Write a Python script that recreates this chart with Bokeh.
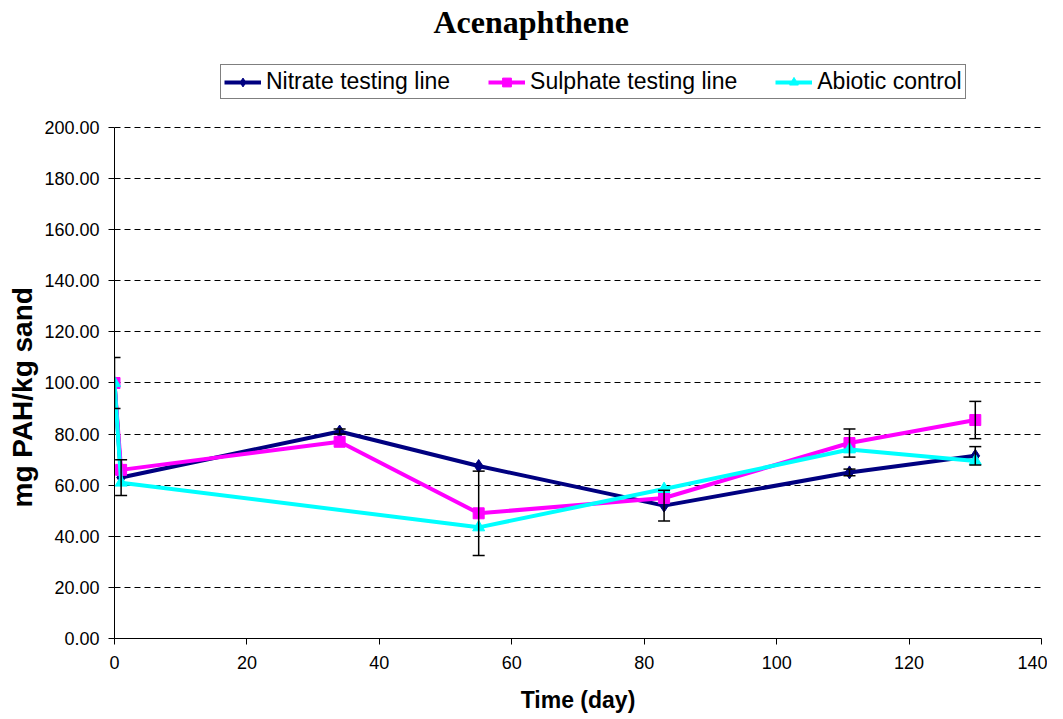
from bokeh.plotting import figure
from bokeh.models import (Range1d, Whisker, ColumnDataSource, Legend, LegendItem,
                          NumeralTickFormatter, TeeHead, Title, Label)
from bokeh.embed import file_html
from bokeh.resources import INLINE

# ---- data ----
days = [0, 1, 34, 55, 83, 111, 130]
nitrate = [100.0, 63.0, 81.0, 67.5, 52.0, 65.0, 71.5]
sulphate = [100.0, 66.0, 77.0, 49.0, 55.0, 76.5, 85.5]
abiotic_days = [0, 1, 55, 83, 111, 130]
abiotic = [100.0, 61.0, 43.5, 58.5, 74.0, 69.5]

# error bars (x, centre, half-width)
err_x = [0, 1, 34, 55, 83, 111, 111, 130, 130]
err_c = [100.0, 63.0, 81.0, 49.0, 52.0, 76.5, 65.0, 85.5, 71.5]
err_e = [10.0, 7.0, 1.0, 16.5, 6.0, 5.5, 1.3, 7.3, 3.6]

x_ticks = list(range(0, 141, 20))
y_ticks = list(range(0, 201, 20))

p = figure(width=1047, height=716, output_backend="svg", toolbar_location=None,
           x_range=Range1d(0, 140), y_range=Range1d(0, 249.7),
           min_border_left=113, min_border_right=6, min_border_top=0, min_border_bottom=78)
p.outline_line_color = None
p.background_fill_color = "white"
p.border_fill_color = "white"

title = Label(text="Acenaphthene", x=319, y=617, x_units="screen", y_units="screen",
              text_font="Liberation Serif", text_font_size="32px", text_font_style="bold",
              text_color="black", text_baseline="alphabetic", text_align="left")
p.add_layout(title)

# axes
for ax in (p.xaxis[0], p.yaxis[0]):
    ax.axis_line_color = "black"
    ax.major_tick_line_color = "black"
    ax.major_tick_in = 0
    ax.major_tick_out = 6
    ax.minor_tick_line_color = None
    ax.major_label_text_font = "Liberation Sans"
    ax.major_label_text_font_size = "18px"
    ax.major_label_text_color = "black"
    ax.major_label_standoff = 9
    ax.axis_label_text_font = "Liberation Sans"
    ax.axis_label_text_font_size = "23px"
    ax.axis_label_text_font_style = "bold"
    ax.axis_label_text_color = "black"

p.xaxis.ticker = x_ticks
p.yaxis.ticker = y_ticks
p.yaxis.bounds = (0, 200)
p.yaxis.formatter = NumeralTickFormatter(format="0.00")
p.xaxis.axis_label = "Time (day)"
p.xaxis.major_label_standoff = 11
p.xaxis.axis_label_standoff = 15

ylab = Title(text="mg PAH/kg sand", align="left", text_font="Liberation Sans",
             text_font_size="28px", text_font_style="bold", text_color="black",
             offset=131, standoff=8)
p.add_layout(ylab, "left")

p.xgrid.grid_line_color = None
p.ygrid.grid_line_color = "black"
p.ygrid.grid_line_dash = "6 4"
p.ygrid.grid_line_width = 1

# error bars
esrc = ColumnDataSource(dict(x=err_x,
                             lo=[c - e for c, e in zip(err_c, err_e)],
                             hi=[c + e for c, e in zip(err_c, err_e)]))
w = Whisker(source=esrc, base="x", upper="hi", lower="lo", line_color="black",
            line_width=1.5, level="glyph",
            upper_head=TeeHead(size=12, line_color="black", line_width=1.5),
            lower_head=TeeHead(size=12, line_color="black", line_width=1.5))
p.add_layout(w)

# series
l1 = p.line(days, nitrate, line_color="#000080", line_width=4)
m1 = p.scatter(days, nitrate, marker="diamond", size=13, fill_color="#000080", line_color="#000080")
l2 = p.line(days, sulphate, line_color="#FF00FF", line_width=4)
m2 = p.scatter(days, sulphate, marker="square", size=11, fill_color="#FF00FF", line_color="#FF00FF")
l3 = p.line(abiotic_days, abiotic, line_color="#00FFFF", line_width=4)
m3 = p.scatter(abiotic_days, abiotic, marker="triangle", size=12, fill_color="#00FFFF", line_color="#00FFFF")

legend = Legend(items=[
    LegendItem(label="Nitrate testing line", renderers=[l1, m1]),
    LegendItem(label="Sulphate testing line", renderers=[l2, m2]),
    LegendItem(label="Abiotic control", renderers=[l3, m3]),
], orientation="horizontal", location=(106, 539),
    label_text_font="Liberation Sans", label_text_font_size="23px", label_text_color="black",
    border_line_color="black", border_line_width=1, background_fill_color="white",
    glyph_width=37, glyph_height=22, spacing=38, padding=3, margin=0, label_standoff=5)
p.add_layout(legend, "center")

open("out.html", "w").write(file_html(p, INLINE))
